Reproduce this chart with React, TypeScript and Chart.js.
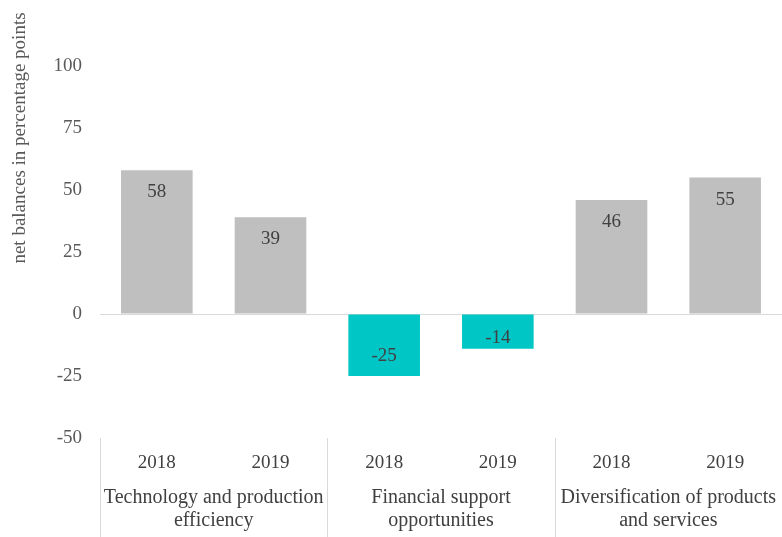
import React, { useEffect, useRef } from "react";
import { Chart, registerables } from "chart.js";

Chart.register(...registerables);

const years = ["2018", "2019", "2018", "2019", "2018", "2019"];
const groups = [
  ["Technology and production", "efficiency"],
  ["Financial support", "opportunities"],
  ["Diversification of products", "and services"],
];
const values = [58, 39, -25, -14, 46, 55];
const yTitle = "net balances in percentage points";

const GRAY = "#BFBFBF";
const TEAL = "#00C6C6";
const FONT = "'Liberation Serif', 'Times New Roman', serif";

export default function App() {
  const ref = useRef<HTMLCanvasElement | null>(null);

  useEffect(() => {
    document.body.style.margin = "0";
    const canvas = ref.current;
    if (!canvas) return;

    const overlay = {
      id: "overlay",
      afterDraw(chart: any) {
        const { ctx, chartArea } = chart;
        ctx.save();
        ctx.strokeStyle = "#D9D9D9";
        ctx.lineWidth = 1;
        const w = (chartArea.right - chartArea.left) / groups.length;
        for (let i = 0; i <= groups.length; i++) {
          const x = Math.round(chartArea.left + i * w) + 0.5;
          ctx.beginPath();
          ctx.moveTo(x, chartArea.bottom);
          ctx.lineTo(x, chart.height);
          ctx.stroke();
        }
        ctx.fillStyle = "#595959";
        ctx.font = `19px ${FONT}`;
        ctx.textAlign = "center";
        ctx.textBaseline = "middle";
        ctx.translate(20, 138);
        ctx.rotate(-Math.PI / 2);
        ctx.fillText(yTitle, 0, 0);
        ctx.restore();
      },
      afterDatasetsDraw(chart: any) {
        const { ctx } = chart;
        const meta = chart.getDatasetMeta(0);
        ctx.save();
        ctx.fillStyle = "#404040";
        ctx.font = `19px ${FONT}`;
        ctx.textAlign = "center";
        ctx.textBaseline = "middle";
        meta.data.forEach((bar: any, i: number) => {
          const v = values[i];
          const h = Math.abs(bar.base - bar.y);
          const off = Math.min(21, h / 3);
          const y = v >= 0 ? bar.y + off : bar.y - off;
          ctx.fillText(String(v), bar.x, y + 1);
        });
        ctx.restore();
      },
    };

    const chart = new Chart(canvas, {
      type: "bar",
      data: {
        labels: years,
        datasets: [
          {
            data: values,
            backgroundColor: values.map((v) => (v >= 0 ? GRAY : TEAL)),
            barPercentage: 0.63,
            categoryPercentage: 1,
          },
        ],
      },
      options: {
        animation: false,
        responsive: false,
        layout: { padding: { top: 66, right: 0, left: 0, bottom: 0 } },
        plugins: {
          legend: { display: false },
          tooltip: { enabled: false },
        },
        scales: {
          x: {
            position: "bottom",
            grid: { display: false, drawTicks: false },
            border: { display: false },
            ticks: {
              color: "#404040",
              font: { family: FONT, size: 19 },
              padding: 14,
              maxRotation: 0,
              autoSkip: false,
            },
            afterFit: (s: any) => {
              s.height = 46;
            },
          },
          x2: {
            type: "category",
            position: "bottom",
            labels: groups as any,
            offset: true,
            grid: { display: false, drawTicks: false },
            border: { display: false },
            ticks: {
              color: "#404040",
              font: { family: FONT, size: 20, lineHeight: 1.15 },
              padding: 2,
              maxRotation: 0,
              autoSkip: false,
            },
            afterFit: (s: any) => {
              s.height = 53;
            },
          },
          y: {
            min: -50,
            max: 100,
            ticks: {
              stepSize: 25,
              color: "#595959",
              font: { family: FONT, size: 19 },
              padding: 18,
            },
            grid: {
              drawTicks: false,
              color: (c: any) => (c.tick && c.tick.value === 0 ? "#D9D9D9" : "rgba(0,0,0,0)"),
            },
            border: { display: false },
            afterFit: (s: any) => {
              s.width = 100;
            },
          },
        },
      },
      plugins: [overlay],
    });

    return () => chart.destroy();
  }, []);

  return (
    <div style={{ width: 782, height: 537 }}>
      <canvas ref={ref} width={782} height={537} style={{ display: "block" }} />
    </div>
  );
}
